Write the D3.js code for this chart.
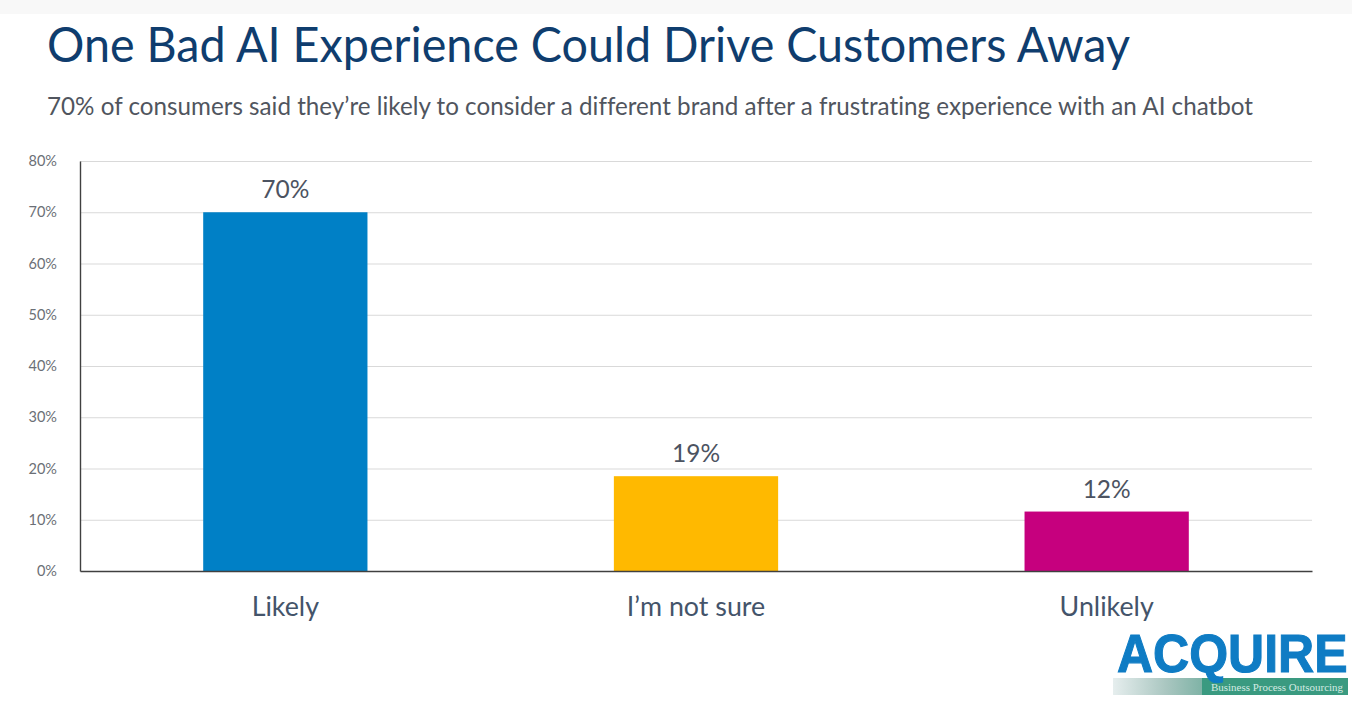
<!DOCTYPE html>
<html lang="en">
<head>
    <meta charset="UTF-8">
    <title>One Bad AI Experience Could Drive Customers Away</title>
    <script src="https://d3js.org/d3.v7.min.js"></script>
    <style>
        html, body { margin: 0; padding: 0; background: #fff; overflow: hidden; }
        svg { display: block; font-family: Lato, "Open Sans", sans-serif; }
        svg text { font-variant-ligatures: none; }
        .grid line { stroke: #d9d9d9; stroke-width: 1; }
        .grid .domain { display: none; }
        .y-axis text { fill: #6b6f76; font-size: 14.5px; font-family: Lato, sans-serif; }
        .y-axis .domain, .x-axis .domain { stroke: #404040; stroke-width: 1.4; }
        .y-axis line, .x-axis line { display: none; }
        .x-axis text { fill: #44546a; font-size: 26.8px; font-family: Lato, sans-serif; }
    </style>
</head>
<body>
    <svg id="chart" width="1352" height="706"></svg>
    <script>
        const categories = ["Likely", "I\u2019m not sure", "Unlikely"];
        const values = [70, 18.5, 11.6];
        const barLabels = ["70%", "19%", "12%"];
        const barColors = ["#0080c6", "#ffb900", "#c6007e"];
        const yTicks = [0, 10, 20, 30, 40, 50, 60, 70, 80];

        const svg = d3.select("#chart");
        const plotLeft = 80, plotRight = 1312, plotTop = 161, plotBottom = 571;

        const x = d3.scaleBand().domain(categories).range([plotLeft, plotRight]).paddingInner(0.6).paddingOuter(0.3);
        const y = d3.scaleLinear().domain([0, 80]).range([plotBottom, plotTop]);

        // faint band left over from the slide screenshot
        svg.append("rect").attr("width", 1352).attr("height", 14).attr("fill", "#f8f8f8");

        svg.append("text").attr("x", 47).attr("y", 62)
            .attr("fill", "#0f3d6e").attr("font-size", 47.5)
            .attr("textLength", 1083).attr("lengthAdjust", "spacingAndGlyphs")
            .text("One Bad AI Experience Could Drive Customers Away");

        svg.append("text").attr("x", 47).attr("y", 115)
            .attr("fill", "#50555e").attr("font-size", 24.3)
            .attr("textLength", 1206).attr("lengthAdjust", "spacingAndGlyphs")
            .text("70% of consumers said they\u2019re likely to consider a different brand after a frustrating experience with an AI chatbot");

        svg.append("g").attr("class", "grid")
            .attr("transform", `translate(${plotLeft},0)`)
            .call(d3.axisRight(y).tickValues(yTicks.slice(1)).tickSize(plotRight - plotLeft).tickFormat(""));

        svg.selectAll(".bar").data(categories).enter().append("rect")
            .attr("class", "bar")
            .attr("x", d => x(d))
            .attr("width", x.bandwidth())
            .attr("y", (d, i) => y(values[i]))
            .attr("height", (d, i) => y(0) - y(values[i]))
            .attr("fill", (d, i) => barColors[i]);

        svg.selectAll(".bar-label").data(categories).enter().append("text")
            .attr("class", "bar-label")
            .attr("x", d => x(d) + x.bandwidth() / 2)
            .attr("y", (d, i) => y(values[i]) - 14)
            .attr("text-anchor", "middle")
            .attr("fill", "#4c5361").attr("font-size", 24.5)
            .text((d, i) => barLabels[i]);

        svg.append("g").attr("class", "y-axis")
            .attr("transform", `translate(${plotLeft},0)`)
            .call(d3.axisLeft(y).tickValues(yTicks).tickSizeOuter(0).tickPadding(17).tickFormat(d => d + "%"));

        svg.append("g").attr("class", "x-axis")
            .attr("transform", `translate(0,${plotBottom})`)
            .call(d3.axisBottom(x).tickSizeOuter(0).tickPadding(20));

        // logo, bottom right
        const logoFade = svg.append("defs").append("linearGradient").attr("id", "logoFade");
        logoFade.append("stop").attr("offset", "0%").attr("stop-color", "#e6eeee");
        logoFade.append("stop").attr("offset", "60%").attr("stop-color", "#a9c6c0");
        logoFade.append("stop").attr("offset", "100%").attr("stop-color", "#7fb3a6");

        svg.append("rect").attr("x", 1113).attr("y", 678).attr("width", 89).attr("height", 17).attr("fill", "url(#logoFade)");
        svg.append("rect").attr("x", 1202).attr("y", 678).attr("width", 146).attr("height", 17).attr("fill", "#3a9a80");

        svg.append("text")
            .attr("transform", "translate(1117,672) scale(1,1.09)")
            .attr("fill", "#0f7cc4").attr("stroke", "#0f7cc4").attr("stroke-width", 1)
            .attr("font-size", 50).attr("font-weight", 700)
            .attr("font-family", "Liberation Sans, Arial, sans-serif")
            .text("ACQUIRE");

        svg.append("text").attr("x", 1211).attr("y", 691)
            .attr("fill", "#d5ebe3").attr("font-size", 11)
            .attr("font-family", "Liberation Serif, serif")
            .attr("textLength", 132).attr("lengthAdjust", "spacingAndGlyphs")
            .text("Business Process Outsourcing");
    </script>
</body>
</html>
